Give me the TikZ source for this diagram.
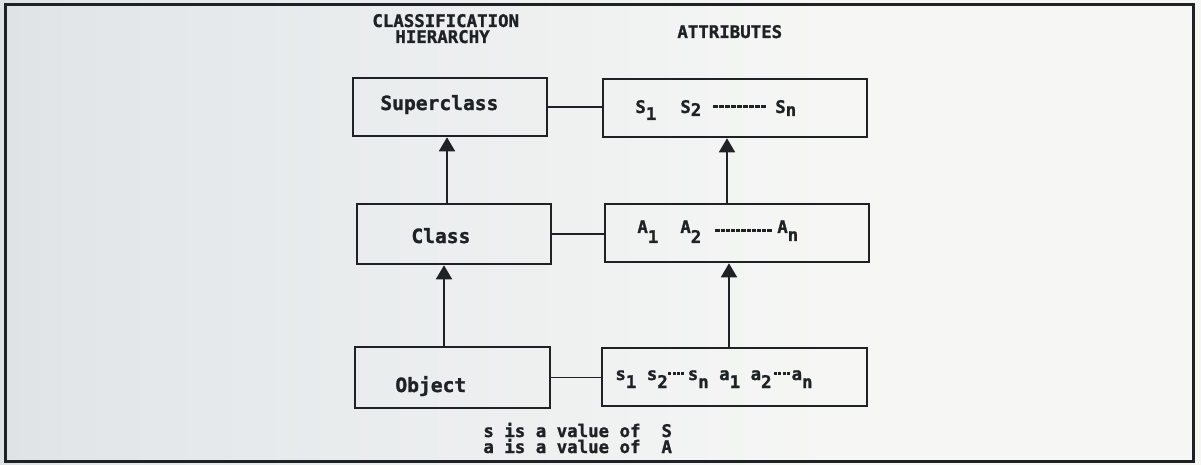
\documentclass[tikz,border=0pt]{standalone}
\usepackage{fontspec}
\usetikzlibrary{arrows.meta}
\newfontfamily\dmono{DejaVu Sans Mono}[BoldFeatures={FakeBold=1.3}]
\definecolor{ink}{HTML}{1E2224}
\definecolor{paperA}{HTML}{BEC7CD}
\definecolor{paperB}{HTML}{E2E6E9}
\definecolor{paperC}{HTML}{F6F7F5}
\pgfdeclarehorizontalshading{paper}{100bp}{color(0bp)=(paperA); color(28bp)=(paperB); color(60bp)=(paperC); color(100bp)=(paperC)}
\newcommand\lw[2]{\raisebox{-#1}{#2}}
\newcommand\dts[1]{\leaders\hbox to 3pt{\rule[2.3pt]{2.1pt}{1.8pt}\hss}\hskip#1\relax}
\newcommand\dsh[1]{\leaders\hbox to 2.6pt{\rule[0.6pt]{2.1pt}{1.6pt}\hss}\hskip#1\relax}
\newcommand\sdt[1]{\leaders\hbox to 2.2pt{\rule[2.7pt]{1.5pt}{1.5pt}\hss}\hskip#1\relax}
\begin{document}
\begin{tikzpicture}[x=0.5pt,y=-0.5pt,
  box/.style={draw=ink,line width=1.3pt,inner sep=0pt},
  lbl/.style={anchor=base west,inner sep=0pt,text=ink,font=\dmono\bfseries\fontsize{9.8pt}{11pt}\selectfont},
  small/.style={anchor=base west,inner sep=0pt,text=ink,font=\dmono\bfseries\fontsize{8.7pt}{9pt}\selectfont},
  conn/.style={draw=ink,line width=0.9pt},
  arr/.style={conn,-{Triangle[width=8pt,length=7pt]}}]
\useasboundingbox (0,0) rectangle (1201,465);
\shade[shading=paper] (0,0) rectangle (1201,465);
\draw[ink,line width=1.5pt] (5,5) rectangle (1193,461);
% headings
\node[small] (h1) at (372,27) {CLASSIFICATION};
\node[small] (h2) at (395,43) {HIERARCHY};
\node[small] (h3) at (677,38) {ATTRIBUTES};
% classification boxes
\node[box,minimum width=97pt,minimum height=29pt] (sup) at (450,107) {};
\node[box,minimum width=97pt,minimum height=30pt] (cls) at (454,234) {};
\node[box,minimum width=97.5pt,minimum height=30.5pt] (obj) at (452.5,377.5) {};
\node[lbl] (tsup) at (380,110) {Superclass};
\node[lbl] (tcls) at (411,243) {Class};
\node[lbl] (tobj) at (395,392) {Object};
% attribute boxes
\node[box,minimum width=132pt,minimum height=29pt] (sb) at (735,108) {};
\node[box,minimum width=132pt,minimum height=29pt] (ab) at (737,233) {};
\node[box,minimum width=132.5pt,minimum height=29pt] (vb) at (734.5,377) {};
\node[small] (tsb) at (635,113) {S\lw{3.5pt}{1}\hspace{12pt}S\lw{1.5pt}{2}\hspace{3.5pt}\dts{32.5pt}\hspace{1pt}S\lw{1.5pt}{n}};
\node[small] (tab) at (637,233) {A\lw{5pt}{1}\hspace{11pt}A\lw{5pt}{2}\hspace{5.5pt}\dsh{31.5pt}\hspace{1pt}A\lw{4pt}{n}};
\node[small] (tvb) at (615,380) {s\lw{4pt}{1} s\lw{4pt}{2}\sdt{10pt}s\lw{4pt}{n} a\lw{4pt}{1} a\lw{4pt}{2}\sdt{10pt}a\lw{4pt}{n}};
% legend
\node[small] (l1) at (483,437) {s is a value of\ \ S};
\node[small] (l2) at (483,453) {a is a value of\ \ A};
% connectors
\coordinate (x1) at (447,0);
\coordinate (x2) at (444,0);
\coordinate (x3) at (727,0);
\coordinate (x4) at (729,0);
\draw[arr] (cls.north -| x1) -- (sup.south -| x1);
\draw[arr] (obj.north -| x2) -- (cls.south -| x2);
\draw[arr] (ab.north -| x3) -- (sb.south -| x3);
\draw[arr] (vb.north -| x4) -- (ab.south -| x4);
\draw[conn] (sup.east) -- (sup.east -| sb.west);
\draw[conn] (cls.east) -- (cls.east -| ab.west);
\draw[conn] (obj.east) -- (obj.east -| vb.west);
\end{tikzpicture}
\end{document}
